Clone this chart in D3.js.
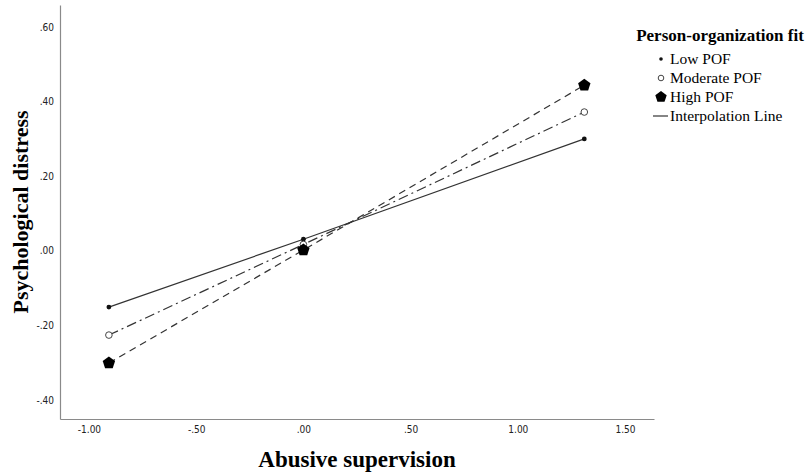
<!DOCTYPE html>
<html>
<head>
<meta charset="utf-8">
<script src="https://cdn.jsdelivr.net/npm/d3@7"></script>
<style>
  body { margin: 0; background: #fff; }
  svg { display: block; }
</style>
</head>
<body>
<div id="chart"></div>
<script>
// simple slopes
var xValues = [-0.907, 0.0, 1.31];
var groups = ["Low POF", "Moderate POF", "High POF"];
var lowPOF = [-0.151, 0.031, 0.300];
var moderatePOF = [-0.226, 0.017, 0.372];
var highPOF = [-0.301, 0.002, 0.444];
var xTicks = [-1.0, -0.5, 0.0, 0.5, 1.0, 1.5];
var yTicks = [-0.4, -0.2, 0.0, 0.2, 0.4, 0.6];

var width = 807, height = 472;
var serif = "'Liberation Serif', 'Times New Roman', serif";
var tickFont = "'Liberation Sans Narrow', 'DejaVu Sans Condensed', 'Liberation Sans', sans-serif";

var svg = d3.select("#chart")
  .append("svg")
    .attr("width", width)
    .attr("height", height);

var x = d3.scaleLinear().domain([-1.135, 1.635]).range([60, 654]);
var y = d3.scaleLinear().domain([-0.451, 0.659]).range([419, 5]);

// format like SPSS: .20, -.40, 1.00
function fmt(v) {
  var s = d3.format(".2f")(Math.abs(v));
  if (Math.abs(v) < 1) s = s.replace(/^0/, "");
  return (v < 0 ? "-" : "") + s;
}

// axes
var xAxis = svg.append("g")
    .attr("transform", "translate(0,419)")
    .call(d3.axisBottom(x).tickValues(xTicks).tickSize(0).tickPadding(7).tickFormat(fmt));
var yAxis = svg.append("g")
    .attr("transform", "translate(60,0)")
    .call(d3.axisLeft(y).tickValues(yTicks).tickSize(0).tickPadding(6).tickFormat(fmt));

[xAxis, yAxis].forEach(function(a) {
  a.select(".domain").attr("stroke", "#8a8a8a").attr("stroke-width", 1.2);
  a.selectAll("text")
    .attr("fill", "#222")
    .style("font-family", tickFont)
    .style("font-size", "10px");
});

// lines + markers
var series = [
  {name: groups[0], values: lowPOF, dash: null, marker: "dot"},
  {name: groups[1], values: moderatePOF, dash: "10,4,2,4", marker: "ring"},
  {name: groups[2], values: highPOF, dash: "7,5", marker: "pentagon"}
];

var line = d3.line()
  .x(function(d) { return x(d[0]); })
  .y(function(d) { return y(d[1]); });

// pentagon path by hand (point up)
function pentPath(r) {
  var pts = [];
  for (var k = 0; k < 5; k++) {
    var a = -Math.PI / 2 + k * 2 * Math.PI / 5;
    pts.push([r * Math.cos(a), r * Math.sin(a)]);
  }
  return "M" + pts.map(function(p) { return p[0].toFixed(2) + "," + p[1].toFixed(2); }).join("L") + "Z";
}

function drawMarker(g, type) {
  if (type === "dot") {
    g.append("circle").attr("r", 2.4).attr("fill", "#111");
  } else if (type === "ring") {
    g.append("circle").attr("r", 3.3).attr("fill", "#fff")
      .attr("stroke", "#444").attr("stroke-width", 1);
  } else {
    g.append("path").attr("d", pentPath(6.5)).attr("fill", "#000");
  }
}

series.forEach(function(s) {
  var pts = xValues.map(function(v, i) { return [v, s.values[i]]; });
  svg.append("path")
    .datum(pts)
    .attr("d", line)
    .attr("fill", "none")
    .attr("stroke", "#333")
    .attr("stroke-width", 1.2)
    .attr("stroke-dasharray", s.dash);
});

series.forEach(function(s) {
  xValues.forEach(function(v, i) {
    var g = svg.append("g")
      .attr("transform", "translate(" + x(v) + "," + y(s.values[i]) + ")");
    drawMarker(g, s.marker);
  });
});

// axis titles
svg.append("text")
  .attr("x", 357).attr("y", 467)
  .attr("text-anchor", "middle")
  .style("font-family", serif)
  .style("font-weight", "bold")
  .style("font-size", "23px")
  .text("Abusive supervision");

svg.append("text")
  .attr("transform", "translate(28,212) rotate(-90)")
  .attr("text-anchor", "middle")
  .style("font-family", serif)
  .style("font-weight", "bold")
  .style("font-size", "22px")
  .text("Psychological distress");

// legend
var legend = svg.append("g");
legend.append("text")
  .attr("x", 720).attr("y", 41)
  .attr("text-anchor", "middle")
  .style("font-family", serif)
  .style("font-weight", "bold")
  .style("font-size", "17px")
  .text("Person-organization fit");

var legendItems = groups.concat(["Interpolation Line"]);
var legendMarks = ["dot", "ring", "pentagon", "line"];
legendItems.forEach(function(name, i) {
  var cy = 59 + i * 19;
  var g = legend.append("g").attr("transform", "translate(661," + cy + ")");
  if (legendMarks[i] === "line") {
    g.append("line").attr("x1", -8).attr("x2", 7)
      .attr("stroke", "#333").attr("stroke-width", 1.2);
  } else if (legendMarks[i] === "pentagon") {
    g.append("path").attr("d", pentPath(6)).attr("fill", "#000");
  } else if (legendMarks[i] === "dot") {
    g.append("circle").attr("r", 1.8).attr("fill", "#111");
  } else {
    g.append("circle").attr("r", 2.8).attr("fill", "#fff")
      .attr("stroke", "#444").attr("stroke-width", 1);
  }
  legend.append("text")
    .attr("x", 670).attr("y", cy + 5)
    .style("font-family", serif)
    .style("font-size", "15.5px")
    .text(name);
});
</script>
</body>
</html>
